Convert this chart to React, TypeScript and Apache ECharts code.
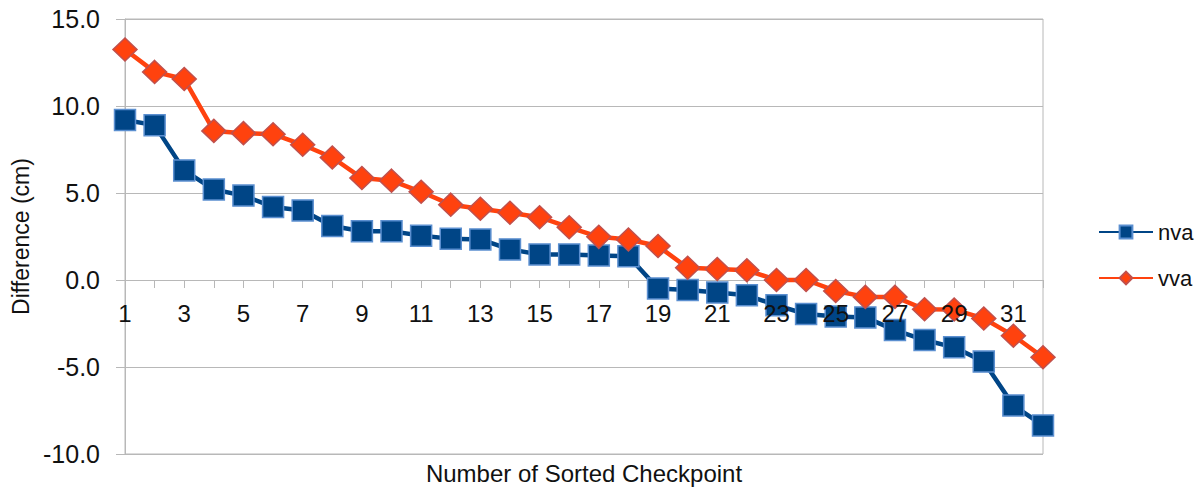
import React, { useEffect, useRef } from "react";
import * as echarts from "echarts";

const categories = Array.from({ length: 32 }, (_, i) => String(i + 1));

const nva = [
  9.2, 8.9, 6.3, 5.2, 4.85, 4.2, 4.0, 3.1, 2.8, 2.8, 2.55, 2.37, 2.33, 1.76, 1.47, 1.47,
  1.41, 1.37, -0.49, -0.57, -0.72, -0.88, -1.45, -1.96, -2.1, -2.15, -2.88, -3.45, -3.87,
  -4.69, -7.21, -8.36,
];

const vva = [
  13.25, 11.96, 11.55, 8.57, 8.44, 8.38, 7.77, 7.04, 5.86, 5.71, 5.07, 4.33, 4.09, 3.86,
  3.61, 3.03, 2.48, 2.33, 1.95, 0.7, 0.63, 0.56, 0.0, 0.0, -0.63, -0.97, -0.97, -1.68,
  -1.7, -2.21, -3.2, -4.44,
];

const yTicks = { min: -10, max: 15, interval: 5 };

const FONT = "'Liberation Sans', Arial, sans-serif";
const GRID = "#b8b8b8";

export default function App() {
  const ref = useRef<HTMLDivElement>(null);
  useEffect(() => {
    if (!ref.current) return;
    const chart = echarts.init(ref.current, null, { renderer: "svg" });
    chart.setOption({
      animation: false,
      backgroundColor: "#ffffff",
      textStyle: { fontFamily: FONT },
      grid: {
        left: 125,
        right: 158,
        top: 19,
        bottom: 35,
        containLabel: false,
        outerBoundsMode: "none",
        show: true,
        borderColor: GRID,
        borderWidth: 1,
      },
      legend: {
        orient: "vertical",
        left: 1093,
        top: 216,
        itemWidth: 54,
        itemHeight: 16,
        itemGap: 24,
        textStyle: { fontSize: 22, color: "#111", fontFamily: FONT },
        data: ["nva", "vva"],
      },
      xAxis: [
        {
          // axis line and ticks on the zero line
          type: "category",
          data: categories,
          boundaryGap: false,
          z: 1,
          axisLine: { show: true, onZero: true, lineStyle: { color: GRID } },
          axisTick: { show: true, interval: 0, length: 8, lineStyle: { color: GRID } },
          axisLabel: { show: false },
          splitLine: { show: false },
        },
        {
          // labels (placed under the zero line) and axis name at the bottom
          type: "category",
          data: categories,
          boundaryGap: false,
          position: "bottom",
          z: 5,
          name: "Number of Sorted Checkpoint",
          nameLocation: "middle",
          nameGap: 7,
          nameMoveOverlap: false,
          nameTextStyle: {
            fontSize: 24,
            color: "#111",
            fontFamily: FONT,
            verticalAlign: "top",
          },
          axisLine: { show: false, onZero: false },
          axisTick: { show: false },
          axisLabel: {
            interval: 1,
            inside: true,
            margin: 129,
            fontSize: 24,
            color: "#111",
            fontFamily: FONT,
          },
          splitLine: { show: false },
        },
      ],
      yAxis: {
        type: "value",
        min: yTicks.min,
        max: yTicks.max,
        interval: yTicks.interval,
        name: "Difference (cm)",
        nameLocation: "middle",
        nameGap: 92,
        nameTextStyle: { fontSize: 23, color: "#111", fontFamily: FONT },
        axisLine: { show: true, lineStyle: { color: GRID } },
        axisTick: { show: true, length: 9, lineStyle: { color: GRID } },
        axisLabel: {
          margin: 25,
          fontSize: 25,
          color: "#111",
          fontFamily: FONT,
          formatter: (v: number) => v.toFixed(1),
        },
        splitLine: { show: true, lineStyle: { color: GRID, width: 1 } },
      },
      series: [
        {
          name: "nva",
          type: "line",
          data: nva,
          xAxisIndex: 0,
          symbol: "rect",
          symbolSize: 21,
          showAllSymbol: true,
          lineStyle: { color: "#004586", width: 4.5 },
          itemStyle: { color: "#004586", borderColor: "#5b8fd0", borderWidth: 1.5 },
          z: 2,
        },
        {
          name: "vva",
          type: "line",
          data: vva,
          xAxisIndex: 0,
          symbol: "diamond",
          symbolSize: [24, 23],
          showAllSymbol: true,
          lineStyle: { color: "#ff420e", width: 4.5 },
          itemStyle: { color: "#ff420e", borderColor: "#c0504d", borderWidth: 1.5 },
          z: 2,
        },
      ],
    });
    return () => chart.dispose();
  }, []);
  return (
    <div
      ref={ref}
      style={{ position: "fixed", left: 0, top: 0, width: 1201, height: 489, background: "#fff" }}
    />
  );
}
